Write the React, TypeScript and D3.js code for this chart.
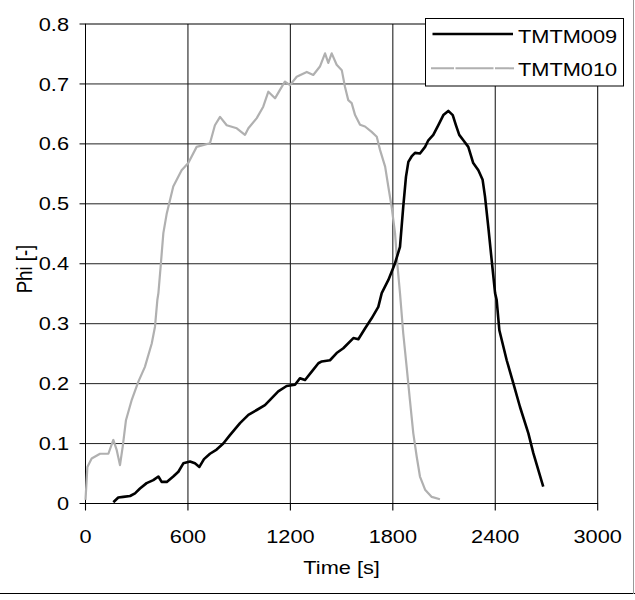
import React from "react";
import * as d3 from "d3";

const tm009Time = [163, 192, 221, 261, 290, 319, 358, 397, 427, 446, 476, 514, 544, 573, 612, 641, 667, 694, 729, 768, 807, 846, 905, 954, 1003, 1051, 1081, 1129, 1178, 1227, 1256, 1286, 1325, 1364, 1384, 1432, 1471, 1510, 1569, 1598, 1637, 1676, 1715, 1735, 1774, 1813, 1842, 1861, 1877, 1891, 1910, 1930, 1959, 1989, 2008, 2037, 2066, 2096, 2125, 2151, 2170, 2189, 2213, 2242, 2271, 2301, 2326, 2340, 2359, 2379, 2399, 2408, 2424, 2467, 2506, 2545, 2594, 2623, 2681];
const tm009Phi = [0.002, 0.01, 0.011, 0.0125, 0.017, 0.025, 0.034, 0.039, 0.045, 0.036, 0.036, 0.045, 0.053, 0.067, 0.07, 0.067, 0.061, 0.074, 0.083, 0.09, 0.1, 0.114, 0.134, 0.148, 0.156, 0.164, 0.173, 0.187, 0.196, 0.198, 0.209, 0.206, 0.22, 0.234, 0.237, 0.239, 0.251, 0.259, 0.276, 0.274, 0.292, 0.309, 0.328, 0.351, 0.373, 0.401, 0.428, 0.495, 0.545, 0.57, 0.579, 0.585, 0.584, 0.595, 0.606, 0.615, 0.631, 0.648, 0.655, 0.648, 0.631, 0.615, 0.606, 0.595, 0.568, 0.556, 0.54, 0.512, 0.462, 0.406, 0.351, 0.34, 0.289, 0.239, 0.2005, 0.161, 0.117, 0.084, 0.028];

const tm010Time = [0, 11, 36, 85, 134, 163, 183, 202, 218, 237, 271, 309, 348, 388, 407, 421, 427, 440, 456, 476, 514, 563, 602, 651, 729, 758, 788, 827, 886, 934, 954, 1003, 1041, 1071, 1110, 1139, 1168, 1198, 1237, 1296, 1334, 1373, 1403, 1422, 1442, 1471, 1501, 1520, 1539, 1559, 1579, 1608, 1637, 1676, 1706, 1725, 1755, 1774, 1793, 1813, 1826, 1842, 1861, 1881, 1900, 1920, 1940, 1959, 1989, 2028, 2076];
const tm010Phi = [0.006, 0.061, 0.075, 0.083, 0.083, 0.106, 0.089, 0.064, 0.095, 0.139, 0.173, 0.203, 0.228, 0.267, 0.295, 0.34, 0.351, 0.395, 0.451, 0.484, 0.529, 0.556, 0.568, 0.595, 0.601, 0.631, 0.645, 0.631, 0.626, 0.615, 0.626, 0.643, 0.662, 0.687, 0.676, 0.69, 0.704, 0.698, 0.712, 0.72, 0.715, 0.729, 0.751, 0.735, 0.751, 0.732, 0.723, 0.695, 0.673, 0.668, 0.648, 0.632, 0.629, 0.62, 0.612, 0.59, 0.562, 0.528, 0.495, 0.451, 0.401, 0.351, 0.284, 0.228, 0.173, 0.117, 0.078, 0.045, 0.023, 0.011, 0.007];

const xTicks = [0, 600, 1200, 1800, 2400, 3000];
const yTicks = [0, 0.1, 0.2, 0.3, 0.4, 0.5, 0.6, 0.7, 0.8];
const seriesNames = ["TMTM009", "TMTM010"];

const FS = 18.6;
const SX = 1.17;
const FONT = "'Liberation Sans', Arial, sans-serif";

function T(props: { x: number; y: number; anchor?: string; rotate?: boolean; children: React.ReactNode }) {
  const { x, y, anchor = "start", rotate = false, children } = props;
  return (
    <text
      transform={`translate(${x},${y}) scale(${SX},1)${rotate ? " rotate(-90)" : ""}`}
      textAnchor={anchor}
      fontFamily={FONT}
      fontSize={FS}
      fill="#000"
    >
      {children}
    </text>
  );
}

export default function App() {
  const W = 635, H = 600;
  const x = d3.scaleLinear().domain([0, 3000]).range([85.5, 597.7]);
  const y = d3.scaleLinear().domain([0, 0.8]).range([503.5, 24]);
  const line = d3.line<[number, number]>().x(d => x(d[0])).y(d => y(d[1]));
  const d009 = line(tm009Time.map((t, i) => [t, tm009Phi[i]] as [number, number])) || "";
  const d010 = line(tm010Time.map((t, i) => [t, tm010Phi[i]] as [number, number])) || "";
  const [x0, x1] = x.range();
  const [y0, y1] = y.range();

  return (
    <svg width={W} height={H} style={{ position: "absolute", left: 0, top: 0, background: "#fff" }}>
      <rect x={0} y={0} width={W} height={H} fill="#fff" />
      {/* gridlines */}
      {yTicks.filter(v => v > 0 && v < 0.8).map(v => (
        <line key={"gy" + v} x1={x0} x2={x1} y1={y(v)} y2={y(v)} stroke="#222" strokeWidth={1} />
      ))}
      {xTicks.filter(v => v > 0 && v < 3000).map(v => (
        <line key={"gx" + v} x1={x(v)} x2={x(v)} y1={y1} y2={y0} stroke="#222" strokeWidth={1.1} />
      ))}
      {/* plot border */}
      <rect x={x0} y={y1} width={x1 - x0} height={y0 - y1} fill="none" stroke="#000" strokeWidth={1} />
      {/* ticks */}
      {yTicks.map(v => (
        <line key={"ty" + v} x1={x0 - 6} x2={x0} y1={y(v)} y2={y(v)} stroke="#000" strokeWidth={1} />
      ))}
      {xTicks.map(v => (
        <line key={"tx" + v} x1={x(v)} x2={x(v)} y1={y0} y2={y0 + 7} stroke="#000" strokeWidth={1.1} />
      ))}
      {/* tick labels */}
      {yTicks.map(v => (
        <T key={"ly" + v} x={69} y={y(v) + 6.6} anchor="end">{d3.format("")(+v.toFixed(1))}</T>
      ))}
      {xTicks.map(v => (
        <T key={"lx" + v} x={x(v)} y={542.5} anchor="middle">{String(v)}</T>
      ))}
      {/* axis titles */}
      <T x={341.6} y={573.5} anchor="middle">Time [s]</T>
      <T x={32} y={269} anchor="middle" rotate>Phi [-]</T>
      {/* series */}
      <path d={d010} fill="none" stroke="#b0b0b0" strokeWidth={2.2} strokeLinejoin="round" />
      <path d={d009} fill="none" stroke="#000" strokeWidth={2.6} strokeLinejoin="round" />
      {/* legend */}
      <rect x={425.5} y={18.5} width={198} height={67.5} fill="#fff" stroke="#000" strokeWidth={1} />
      <line x1={432.5} x2={513} y1={34} y2={34} stroke="#000" strokeWidth={2.6} />
      <T x={518} y={42.5}>{seriesNames[0]}</T>
      <line x1={431} x2={514} y1={68.3} y2={68.3} stroke="#b0b0b0" strokeWidth={2} strokeDasharray="23,1.5,38,1.5" />
      <T x={518} y={76}>{seriesNames[1]}</T>
      {/* outer frame */}
      <line x1={0} x2={W} y1={593.5} y2={593.5} stroke="#000" strokeWidth={1} />
      <line x1={633.5} x2={633.5} y1={0} y2={594} stroke="#999" strokeWidth={1} />
    </svg>
  );
}
